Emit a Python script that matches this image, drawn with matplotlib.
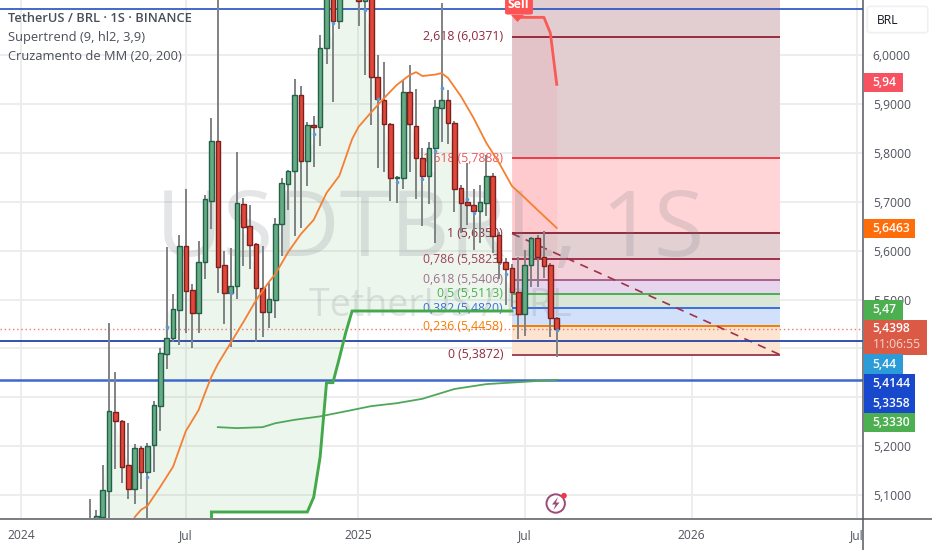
import numpy as np
import matplotlib
matplotlib.use('Agg')
import matplotlib.pyplot as plt
from matplotlib.patches import Rectangle, FancyBboxPatch, Circle, Polygon
from matplotlib.transforms import Bbox

plt.rcParams['font.family'] = ['Open Sans', 'DejaVu Sans']

# weekly candles, the first one is week -1
opens = [5.008, 5.039, 5.055, 5.109, 5.269, 5.252, 5.162, 5.112, 5.196, 5.147,
         5.202, 5.283, 5.389, 5.421, 5.479, 5.610, 5.519, 5.472, 5.576, 5.701,
         5.824, 5.571, 5.514, 5.528, 5.696, 5.650, 5.613, 5.524, 5.474, 5.500,
         5.654, 5.736, 5.763, 5.919, 5.783, 5.857, 5.853, 6.014, 6.140, 6.070,
         6.140, 6.220, 6.220, 6.110, 6.200, 5.956, 5.909, 5.858, 5.748, 5.749,
         5.924, 5.855, 5.789, 5.753, 5.809, 5.892, 5.909, 5.860, 5.728, 5.699,
         5.693, 5.682, 5.698, 5.753, 5.632, 5.577, 5.564, 5.516, 5.470, 5.570,
         5.625, 5.586, 5.570, 5.463]
highs = [5.092, 5.070, 5.162, 5.452, 5.352, 5.254, 5.248, 5.204, 5.200, 5.206,
         5.292, 5.400, 5.608, 5.511, 5.632, 5.727, 5.532, 5.620, 5.714, 5.871,
         6.117, 5.599, 5.606, 5.801, 5.707, 5.693, 5.616, 5.610, 5.534, 5.666,
         5.749, 5.765, 5.950, 5.937, 5.862, 5.875, 6.041, 6.133, 6.150, 6.160,
         6.220, 6.240, 6.250, 6.250, 6.210, 6.000, 5.986, 5.861, 5.753, 5.949,
         5.980, 5.930, 5.810, 5.823, 5.908, 6.107, 5.928, 5.866, 5.734, 5.779,
         5.726, 5.734, 5.795, 5.759, 5.638, 5.585, 5.573, 5.586, 5.601, 5.628,
         5.632, 5.641, 5.575, 5.465]
lows = [5.000, 5.029, 5.049, 5.039, 5.153, 5.125, 5.093, 5.081, 5.112, 5.039,
        5.148, 5.232, 5.357, 5.413, 5.408, 5.432, 5.401, 5.432, 5.541, 5.644,
        5.514, 5.450, 5.403, 5.501, 5.569, 5.562, 5.414, 5.423, 5.441, 5.462,
        5.588, 5.683, 5.630, 5.646, 5.732, 5.772, 5.813, 5.981, 5.904, 6.053,
        6.130, 6.130, 6.060, 5.959, 5.857, 5.768, 5.761, 5.701, 5.697, 5.727,
        5.761, 5.706, 5.651, 5.695, 5.616, 5.823, 5.819, 5.678, 5.636, 5.652,
        5.601, 5.616, 5.671, 5.596, 5.542, 5.489, 5.485, 5.419, 5.425, 5.526,
        5.526, 5.543, 5.424, 5.383]
closes = [5.049, 5.057, 5.110, 5.271, 5.252, 5.158, 5.112, 5.196, 5.147, 5.200,
          5.284, 5.390, 5.422, 5.480, 5.610, 5.518, 5.472, 5.577, 5.705, 5.824,
          5.567, 5.514, 5.528, 5.698, 5.649, 5.611, 5.523, 5.474, 5.501, 5.654,
          5.738, 5.763, 5.919, 5.783, 5.856, 5.853, 6.014, 6.123, 6.070, 6.140,
          6.200, 6.160, 6.110, 6.200, 5.956, 5.911, 5.858, 5.749, 5.750, 5.924,
          5.858, 5.789, 5.753, 5.809, 5.893, 5.908, 5.860, 5.727, 5.698, 5.693,
          5.682, 5.700, 5.752, 5.630, 5.577, 5.562, 5.516, 5.470, 5.570, 5.625,
          5.586, 5.569, 5.463, 5.440]

ma20_weeks = [6, 7, 8, 10, 12, 14, 16, 17, 18, 19, 21, 23, 25, 27, 28, 30, 32, 34, 36, 38,
              40, 41, 43, 45, 47, 49, 50, 51, 53, 54, 55, 57, 59, 61, 63, 65, 67, 69, 72]
ma20 = [5.055, 5.070, 5.078, 5.117, 5.158, 5.231, 5.274, 5.309, 5.342, 5.368,
        5.411, 5.454, 5.499, 5.536, 5.552, 5.597, 5.634, 5.663, 5.718, 5.753,
        5.828, 5.853, 5.883, 5.912, 5.939, 5.959, 5.965, 5.957, 5.960, 5.963,
        5.953, 5.916, 5.871, 5.820, 5.779, 5.732, 5.708, 5.683, 5.6463]

ma200_weeks = [19, 22, 26, 28, 31, 35, 40, 43, 47, 51, 56, 61, 66, 72]
ma200 = [5.239, 5.237, 5.239, 5.247, 5.254, 5.261, 5.274, 5.282, 5.288, 5.297,
         5.317, 5.327, 5.331, 5.3358]

# supertrend up, weeks 1 to 65
st_up = [5.0, 5.0, 5.0, 5.0, 5.0, 5.0, 5.0, 5.0, 5.0, 5.0, 5.0, 5.0, 5.0, 5.0, 5.0, 5.0, 5.0,
         5.0655, 5.0655, 5.0655, 5.0655, 5.0655, 5.0655, 5.0655, 5.0655,
         5.0655, 5.0655, 5.0655, 5.0655, 5.0655, 5.0655, 5.0655, 5.0655,
         5.096, 5.178, 5.330, 5.330, 5.380, 5.432,
         5.4765, 5.4765, 5.4765, 5.4765, 5.4765, 5.4765, 5.4765, 5.4765, 5.4765,
         5.4765, 5.4765, 5.4765, 5.4765, 5.4765, 5.4765, 5.4765, 5.4765, 5.4765,
         5.4765, 5.4765, 5.4765, 5.4765, 5.4765, 5.4765, 5.4765, 5.4765]
st_down_weeks = [65, 66, 67, 68, 69, 70, 71, 72]
st_down = [6.077, 6.077, 6.077, 6.077, 6.077, 6.077, 6.045, 5.94]

dot_weeks = [8, 11, 21, 34, 37, 42, 44, 47, 51, 53, 54, 58, 59, 64, 72]
dot_prices = [5.138, 5.444, 5.513, 5.838, 6.066, 6.092, 5.910, 5.740, 5.746, 5.804,
              5.933, 5.705, 5.677, 5.552, 5.438]

fib_levels = [2.618, 1.618, 1, 0.786, 0.618, 0.5, 0.382, 0.236, 0]
fib_prices = [6.0371, 5.7888, 5.6350, 5.5823, 5.5406, 5.5113, 5.4820, 5.4458, 5.3872]
fib_labels = ['2,618', '1,618', '1', '0,786', '0,618', '0,5', '0,382', '0,236', '0']
fib_line_colors = ['#962B40', '#EE3B48', '#8E2A3E', '#A1304A', '#A8628A', '#4CAF50',
                   '#3B6FE0', '#F57C00', '#A2435A']
fib_text_colors = ['#8E2A3E', '#F0575A', '#8E2A3E', '#A1405A', '#A0708E', '#4CAF50',
                   '#3B6FE0', '#F57C00', '#8E2A3E']
fib_fills = ['#E2CDD0', '#FFD5D7', '#E2D0D3', '#F4D2DB', '#E7D5EE', '#D8E7D8', '#D2E1FB', '#FDE4D0']

price_ticks = [6.0, 5.9, 5.8, 5.7, 5.6, 5.5, 5.4, 5.3, 5.2, 5.1]
price_tick_labels = ['6,0000', '5,9000', '5,8000', '5,7000', '5,6000', '5,5000', '', '', '5,2000', '5,1000']
time_ticks = [-11.8, 14.0, 40.9, 67.0, 93.1, 118.9]
time_tick_labels = ['2024', 'Jul', '2025', 'Jul', '2026', 'Jul']

W, H = 932, 550
PW, PH = 863, 518
fig = plt.figure(figsize=(W / 100, H / 100), dpi=100, facecolor='white')
ax = fig.add_axes([0, 1 - PH / H, PW / W, PH / H])
ax.set_xlim(-15.06, 119.89)
ax.set_ylim(5.0532, 6.1125)


def fx(x):
    return x / W


def fy(y):
    return 1 - y / H


# grid and axes
ax.set_yticks(price_ticks)
ax.set_yticklabels(price_tick_labels, fontsize=8.7, color='#50535E')
ax.yaxis.tick_right()
ax.tick_params(axis='y', length=0, pad=7)
ax.set_xticks(time_ticks)
ax.set_xticklabels(time_tick_labels, fontsize=8.7, color='#50535E')
ax.tick_params(axis='x', length=0, pad=8)
ax.grid(True, color='#ECECEC', lw=1.3, zorder=0)
ax.set_axisbelow(True)
for side in ['top', 'left', 'right', 'bottom']:
    ax.spines[side].set_visible(False)
ax.get_xticklabels()[-1].set_clip_on(True)
ax.get_xticklabels()[-1].set_clip_box(Bbox([[0, 0], [PW, H]]))

# watermark, sits over the zones but under the candles
ax.text(0.498, 0.552, 'USDTBRL, 1S', transform=ax.transAxes, ha='center', va='center',
        fontsize=66, color='#7A7E86', alpha=0.2, zorder=2.3)
ax.text(0.5105, 0.409, 'TetherUS / BRL', transform=ax.transAxes, ha='center', va='center',
        fontsize=27, color='#7A7E86', alpha=0.2, zorder=2.3)

weeks = np.arange(len(opens)) - 1
opens, highs, lows, closes = map(np.array, (opens, highs, lows, closes))

# supertrend fills
up_weeks = np.arange(1, 66)
hl2 = (highs + lows) / 2
ax.fill_between(up_weeks, st_up, hl2[2:67], color='#4CAF50', alpha=0.1, lw=0, zorder=0.8)
ax.fill_between(st_down_weeks, st_down, hl2[66:74], color='#F7525F', alpha=0.08, lw=0, zorder=1.6)

# fibonacci zones
fib_left, fib_right = 65.0, 106.9
ax.fill_between([fib_left, fib_right], fib_prices[0], 6.2, color=fib_fills[0], lw=0, zorder=1)
for k in range(len(fib_fills)):
    ax.fill_between([fib_left, fib_right], fib_prices[k + 1], fib_prices[k],
                    color=fib_fills[k], lw=0, zorder=1)
for p, c, name, tc in zip(fib_prices, fib_line_colors, fib_labels, fib_text_colors):
    ax.hlines(p, fib_left, fib_right, color=c, lw=1.4, zorder=2)
    ax.text(63.6, p, '%s (%s)' % (name, ('%.4f' % p).replace('.', ',')), ha='right', va='center',
            fontsize=8.8, color=tc, zorder=1.8)
ax.plot([fib_left, fib_right], [5.635, 5.3872], color='#A1304A', lw=1.2, ls=(0, (5, 4)), zorder=2.2)

# price lines
ax.axhline(6.094, color='#2350C0', lw=1.2, zorder=2.5)
ax.axhline(5.4144, color='#2342A8', lw=1.3, zorder=2.5)
ax.axhline(5.3358, color='#3E68CC', lw=1.8, zorder=2.5)
ax.axhline(5.4398, color='#EF5350', lw=1, ls=(0, (1, 2)), alpha=0.8, zorder=2.5)

# candles
up = closes >= opens
ax.vlines(weeks, lows, highs, color='#808284', lw=1.4, zorder=3)
ax.bar(weeks[up], closes[up] - opens[up], bottom=opens[up], width=0.72,
       color='#66AB84', edgecolor='#22604A', lw=1, zorder=3.2)
ax.bar(weeks[~up], opens[~up] - closes[~up], bottom=closes[~up], width=0.72,
       color='#E0493A', edgecolor='#7C1F1F', lw=1, zorder=3.2)
ax.scatter(dot_weeks, dot_prices, s=7, color='#5B9BD5', lw=0, zorder=3.4)

# indicators
ax.plot(ma200_weeks, ma200, color='#4FA85A', lw=1.3, zorder=3.5)
ax.plot(ma20_weeks, ma20, color='#F57F33', lw=1.3, zorder=3.6)
ax.plot(up_weeks[17:], st_up[17:], color='#43A94B', lw=2.1, solid_joinstyle='miter', zorder=3.7)
ax.plot([up_weeks[17], up_weeks[17]], [5.0532, st_up[17]], color='#43A94B', lw=2.1, zorder=3.7)
ax.plot(st_down_weeks[1:], st_down[1:], color='#FA5A55', lw=2.0, zorder=3.7)

# legend
legend_rows = ['TetherUS / BRL · 1S · BINANCE', 'Supertrend (9, hl2, 3,9)', 'Cruzamento de MM (20, 200)']
for row, (txt, y) in enumerate(zip(legend_rows, [19, 38, 57])):
    fig.text(fx(8), fy(y), txt, fontsize=9.3, va='center', ha='left', color='#4A4E59',
             fontweight='semibold' if row == 0 else 'normal', zorder=6)

# price badges
badge_labels = ['5,94', '5,6463', '5,47', '5,4398', '5,44', '5,4144', '5,3358', '5,3330']
badge_tops = [73, 218.5, 300, 319.5, 354.5, 374, 393.5, 413]
badge_bottoms = [92, 237.5, 319.5, 354.5, 374, 393.5, 413, 432]
badge_rights = [903, 915, 903, 926.5, 903, 915, 915, 915]
badge_colors = ['#F7525F', '#FF6D0A', '#4CAF50', '#DB5A46', '#2B9CD8', '#1848CC', '#1848CC', '#4CAF50']
for lab, t, b, r, c in zip(badge_labels, badge_tops, badge_bottoms, badge_rights, badge_colors):
    fig.add_artist(Rectangle((fx(864), fy(b)), fx(r - 864), fy(t) - fy(b), transform=fig.transFigure,
                             facecolor=c, edgecolor='none', zorder=5))
    yc = (t + b) / 2 if lab != '5,4398' else 328
    fig.text(fx(872.5), fy(yc), lab, fontsize=8.7, color='white', va='center', ha='left',
             fontweight='semibold', zorder=6)
fig.text(fx(872.5), fy(345), '11:06:55', fontsize=8.7, color='#F6D4CE', va='center', ha='left', zorder=6)

# full length axis lines
fig.add_artist(plt.Line2D([fx(863.3), fx(863.3)], [0, 1], color='#55585F', lw=1.1, zorder=4))
fig.add_artist(plt.Line2D([0, 1], [fy(518.6), fy(518.6)], color='#55585F', lw=1.1, zorder=4))

# currency box
fig.add_artist(FancyBboxPatch((fx(870), fy(31)), fx(55), fy(8) - fy(31), transform=fig.transFigure,
                              boxstyle='round,pad=0.003,rounding_size=0.004', facecolor='white',
                              edgecolor='#EEF0F3', lw=1.2, zorder=5))
fig.text(fx(877), fy(20), 'BRL', fontsize=8.7, color='#131722', va='center', ha='left', zorder=6)

# sell flag
fig.add_artist(FancyBboxPatch((fx(506), fy(14)), fx(26), fy(-8) - fy(14), transform=fig.transFigure,
                              boxstyle='round,pad=0.001,rounding_size=0.003', facecolor='#FF5252',
                              edgecolor='none', zorder=5))
fig.add_artist(Polygon([(fx(511), fy(15)), (fx(524), fy(15)), (fx(517.5), fy(22))],
                       transform=fig.transFigure, facecolor='#FF5252', edgecolor='none', zorder=5))
fig.text(fx(518.5), fy(4), 'Sell', fontsize=8.8, color='white', va='center', ha='center',
         fontweight='bold', zorder=6)

# bolt icon
icon = fig.add_axes([fx(540), fy(520), fx(32), fy(488) - fy(520)])
icon.set_xlim(0, 32)
icon.set_ylim(32, 0)
icon.axis('off')
icon.add_patch(Circle((15.7, 15.5), 9.2, facecolor='white', edgecolor='#9C4A7A', lw=1.4))
icon.add_patch(Polygon([(18, 9), (12, 16.5), (15.5, 16.5), (13.5, 22), (19.5, 14.5), (16, 14.5)],
                       facecolor='#9C4A7A', edgecolor='none'))
icon.add_patch(Circle((24, 7.7), 2.8, facecolor='#F23645', edgecolor='none'))

fig.savefig('out.png', dpi=100, facecolor='white')
